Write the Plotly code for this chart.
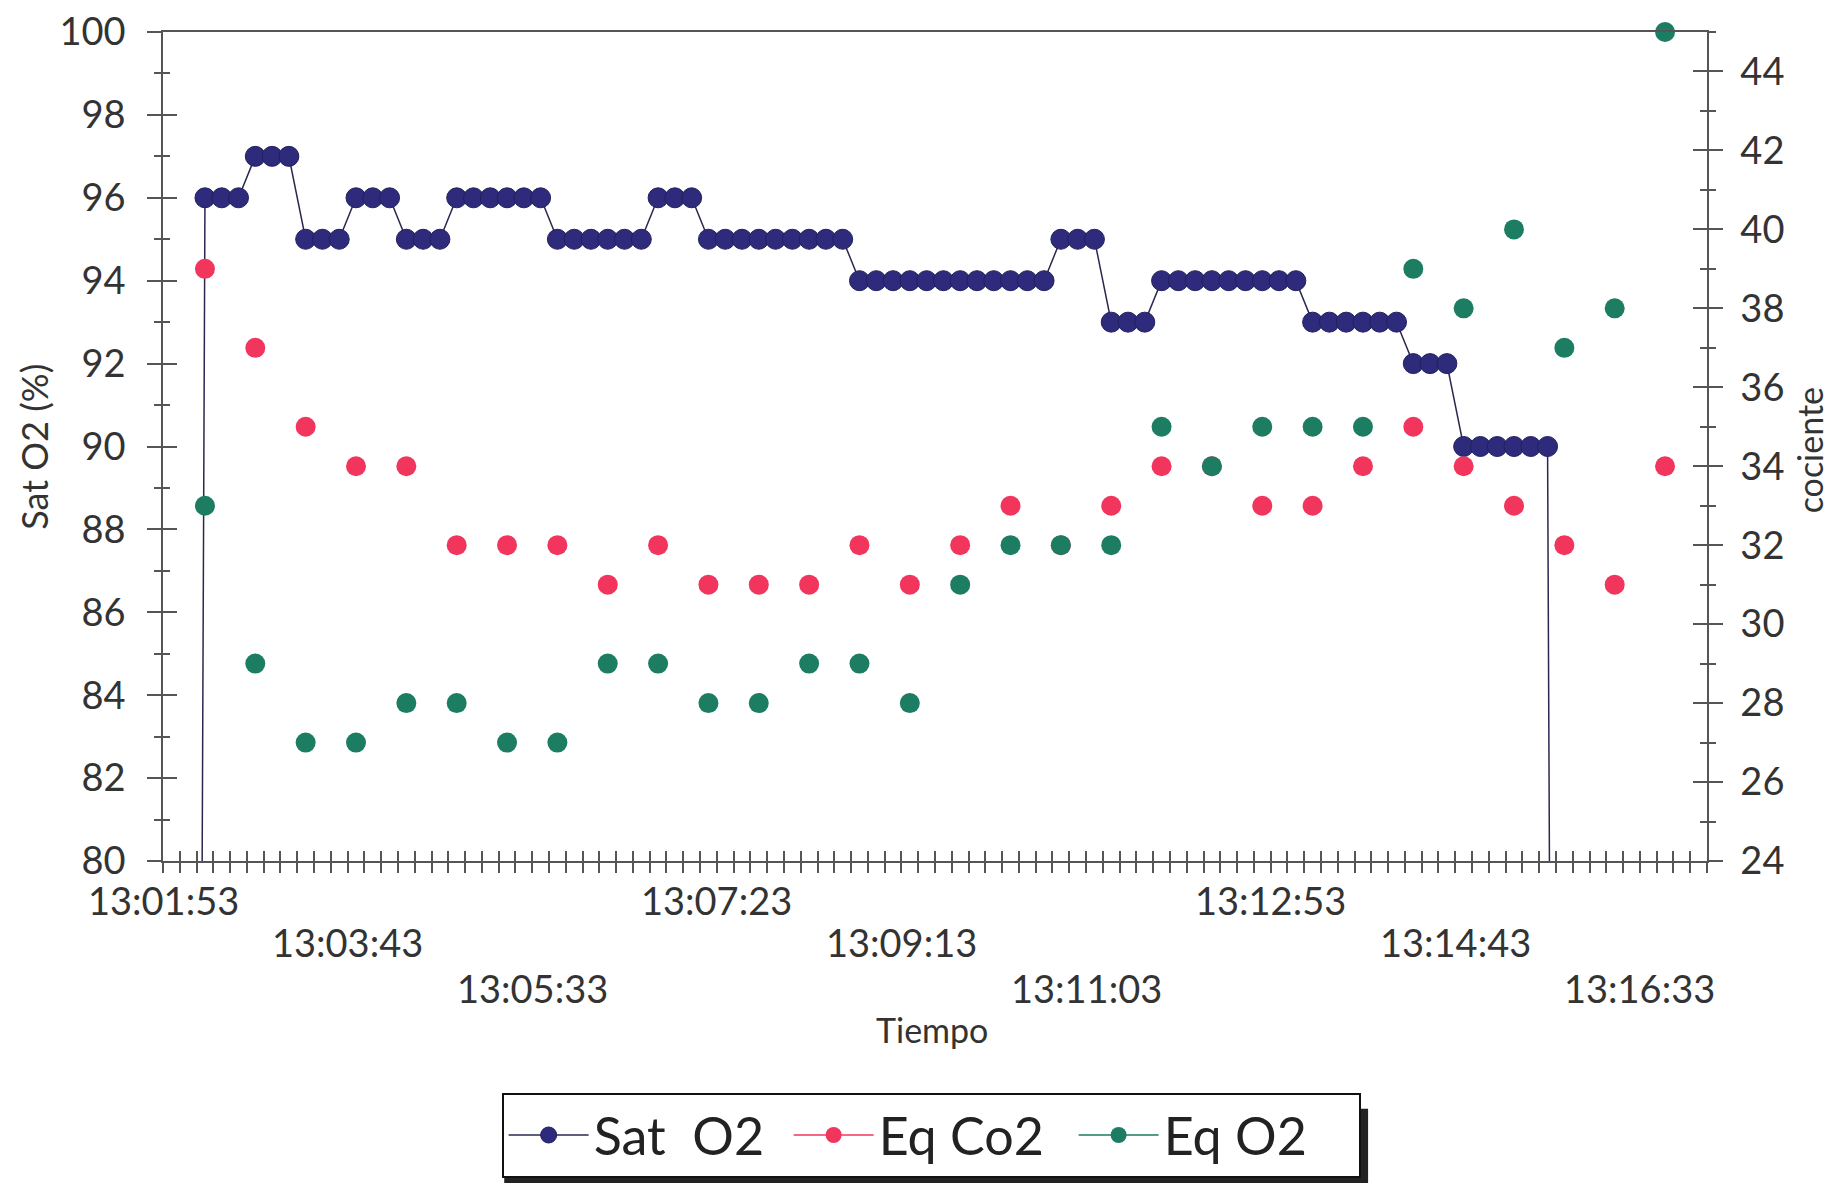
import plotly.graph_objects as go
import pandas as pd

# ---------------- data ----------------
axis_start = "13:01:53"
axis_end = "13:17:13"
tick_labels = ["13:01:53", "13:03:43", "13:05:33", "13:07:23", "13:09:13",
               "13:11:03", "13:12:53", "13:14:43", "13:16:33"]

# Sat O2 (%) sampled every 10 s, first sample 13:02:08 (0 = no reading)
sat_start = "13:02:08"
sat_o2 = [0,
          96, 96, 96, 97, 97, 97, 95, 95, 95, 96, 96, 96, 95, 95, 95,
          96, 96, 96, 96, 96, 96, 95, 95, 95, 95, 95, 95, 96, 96, 96,
          95, 95, 95, 95, 95, 95, 95, 95, 95,
          94, 94, 94, 94, 94, 94, 94, 94, 94, 94, 94, 94,
          95, 95, 95, 93, 93, 93,
          94, 94, 94, 94, 94, 94, 94, 94, 94,
          93, 93, 93, 93, 93, 93, 92, 92, 92,
          90, 90, 90, 90, 90, 90,
          0]

# Equivalents (cociente) sampled every 30 s, first sample 13:02:18
eq_start = "13:02:18"
eq_co2 = [39, 37, 35, 34, 34, 32, 32, 32, 31, 32, 31, 31, 31, 32, 31,
          32, 33, 32, 33, 34, 34, 33, 33, 34, 35, 34, 33, 32, 31, 34]
eq_o2 = [33, 29, 27, 27, 28, 28, 27, 27, 29, 29, 28, 28, 29, 29, 28,
         31, 32, 32, 32, 35, 34, 35, 35, 35, 39, 38, 40, 37, 38, 45]

# ---------------- helpers ----------------
day = "2000-01-01 "
def ts(s):
    return pd.Timestamp(day + s)

sat_x = pd.date_range(ts(sat_start), periods=len(sat_o2), freq="10s")
eq_x = pd.date_range(ts(eq_start), periods=len(eq_co2), freq="30s")

def gapped(xs, ys):
    gx, gy = [], []
    for a, b in zip(xs, ys):
        gx += [a, None]
        gy += [b, None]
    return gx, gy

tick_x = list(pd.date_range(ts(axis_start), ts(axis_end), freq="10s"))

FONT = "Lato"
TXT = "#333333"
AX = "#555555"
C_SAT = "#2e2b7c"
C_CO2 = "#f2355c"
C_O2 = "#1c7d62"

fig = go.Figure()

fig.add_trace(go.Scatter(
    x=sat_x, y=sat_o2, name="Sat  O2", mode="lines+markers",
    line=dict(color="#2a2850", width=1.5),
    marker=dict(color=C_SAT, size=20, line=dict(color="#22205a", width=1)),
    yaxis="y"))

gx, gy = gapped(eq_x, eq_co2)
fig.add_trace(go.Scatter(
    x=gx, y=gy, name="Eq Co2", mode="lines+markers", connectgaps=False,
    line=dict(color=C_CO2, width=1.5),
    marker=dict(color=C_CO2, size=20), yaxis="y2", cliponaxis=False))

gx, gy = gapped(eq_x, eq_o2)
fig.add_trace(go.Scatter(
    x=gx, y=gy, name="Eq O2", mode="lines+markers", connectgaps=False,
    line=dict(color=C_O2, width=1.5),
    marker=dict(color=C_O2, size=20), yaxis="y2", cliponaxis=False))

# dummy traces so that the overlay axes (inner halves of crossing ticks) render
fig.add_trace(go.Scatter(x=[None], y=[None], xaxis="x2", yaxis="y3",
                         showlegend=False, hoverinfo="skip"))
fig.add_trace(go.Scatter(x=[None], y=[None], xaxis="x", yaxis="y4",
                         showlegend=False, hoverinfo="skip"))

x_rng = [ts(axis_start), ts(axis_end)]
tickfont = dict(family=FONT, size=38, color=TXT)

# staggered time labels (three rows)
level_y = [-0.047, -0.0975, -0.153]
annotations = []
for i, lab in enumerate(tick_labels):
    annotations.append(dict(
        text=lab, xref="x", yref="paper", x=ts(lab), y=level_y[i % 3],
        xanchor="center", yanchor="middle", showarrow=False,
        font=dict(family=FONT, size=38, color=TXT)))

annotations += [
    dict(text="Tiempo", xref="paper", yref="paper", x=0.498, y=-0.203,
         xanchor="center", yanchor="middle", showarrow=False,
         font=dict(family=FONT, size=34, color=TXT)),
    dict(text="Sat O2 (%)", xref="paper", yref="paper", x=-0.084, y=0.5,
         xanchor="center", yanchor="middle", textangle=-90, showarrow=False,
         font=dict(family=FONT, size=36, color=TXT)),
    dict(text="cociente", xref="paper", yref="paper", x=1.0665, y=0.495,
         xanchor="center", yanchor="middle", textangle=-90, showarrow=False,
         font=dict(family=FONT, size=34, color=TXT)),
]

# legend drop shadow (paper coords, plot area spans x 163..1707, y 32..861 px)
shapes = [dict(type="rect", xref="paper", yref="paper", layer="below",
               x0=0.221, x1=0.7805, y0=-0.299, y1=-0.392,
               fillcolor="#222222", line=dict(width=0))]

common = dict(automargin=False, showgrid=False, zeroline=False)

fig.update_layout(
    width=1830, height=1175,
    paper_bgcolor="white", plot_bgcolor="white",
    margin=dict(l=155, r=131, t=24, b=322, autoexpand=False),
    showlegend=True,
    legend=dict(orientation="h", x=0.4975, xanchor="center", y=-0.2795, yanchor="top",
                bordercolor="#111111", borderwidth=2, bgcolor="white",
                font=dict(family=FONT, size=52, color="#222222"),
                itemwidth=80, entrywidth=190, entrywidthmode="pixels",
                tracegroupgap=0),
    xaxis=dict(type="date", range=x_rng, tickmode="array", tickvals=tick_x,
               showticklabels=False, ticks="outside", ticklen=10, tickwidth=1.5,
               tickcolor=AX, showline=True, linecolor=AX, linewidth=1.5, mirror=True,
               **common),
    xaxis2=dict(type="date", overlaying="x", matches="x", range=x_rng,
                tickmode="array", tickvals=tick_x, ticks="inside",
                ticklen=10, tickwidth=1.5, tickcolor=AX, showticklabels=False,
                showline=False, anchor="y3", **common),
    yaxis=dict(range=[80, 100], dtick=2, tick0=80, ticks="outside", ticklen=14,
               tickwidth=1.5, tickcolor=AX, showline=True, linecolor=AX, linewidth=1.5,
               tickfont=tickfont, ticklabelstandoff=14, ticklabeloverflow="allow",
               minor=dict(dtick=1, ticks="outside", ticklen=7, tickcolor=AX),
               **common),
    yaxis3=dict(range=[80, 100], dtick=2, tick0=80, overlaying="y", side="left",
                ticks="inside", ticklen=14, tickwidth=1.5, tickcolor=AX,
                showticklabels=False, showline=False,
                minor=dict(dtick=1, ticks="inside", ticklen=7, tickcolor=AX),
                **common),
    yaxis2=dict(range=[24, 45], dtick=2, tick0=24, overlaying="y", side="right",
                ticks="outside", ticklen=14, tickwidth=1.5, tickcolor=AX,
                showline=True, linecolor=AX, linewidth=1.5,
                tickfont=tickfont, ticklabelstandoff=10, ticklabeloverflow="allow",
                minor=dict(dtick=1, ticks="outside", ticklen=7, tickcolor=AX),
                **common),
    yaxis4=dict(range=[24, 45], dtick=2, tick0=24, overlaying="y", side="right",
                ticks="inside", ticklen=14, tickwidth=1.5, tickcolor=AX,
                showticklabels=False, showline=False,
                minor=dict(dtick=1, ticks="inside", ticklen=7, tickcolor=AX),
                **common),
    annotations=annotations,
    shapes=shapes,
)

fig.write_html("out.html")
